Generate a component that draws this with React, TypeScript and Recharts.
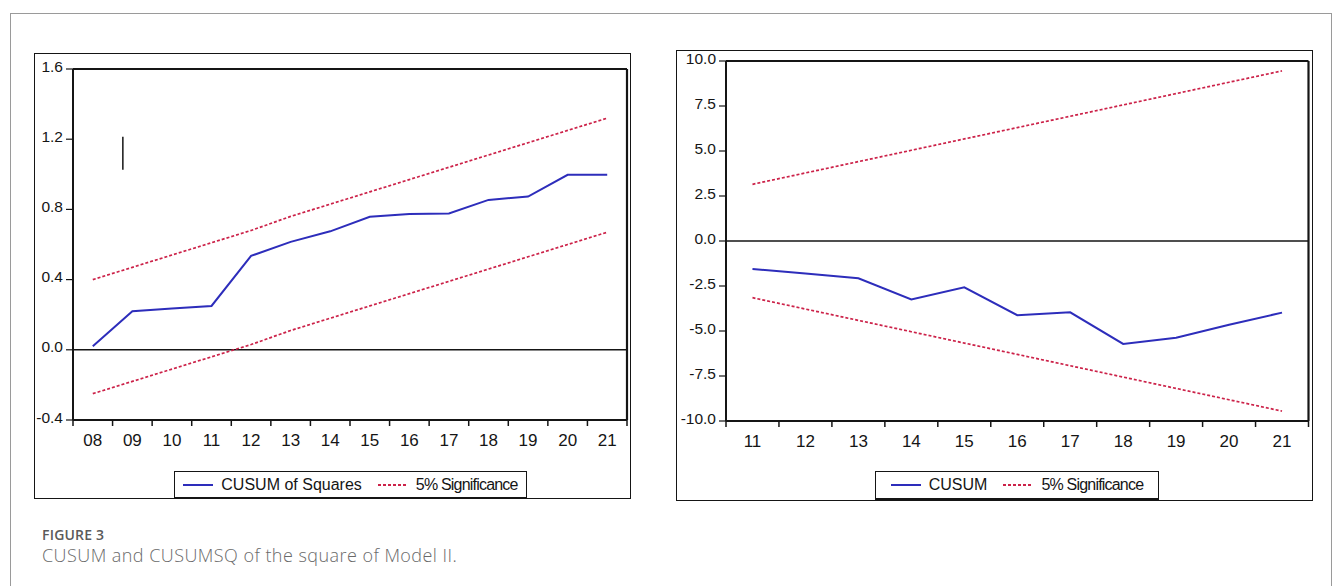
import React from "react";
import { Line, LineChart, ReferenceLine, XAxis, YAxis } from "recharts";

const BLUE = "#2d2dbb";
const RED = "#cc2249";
const INK = "#151515";
const FONT = "Liberation Sans, Arial, sans-serif";

// left panel: CUSUM of Squares
const YEARS_SQ = ["08", "09", "10", "11", "12", "13", "14", "15", "16", "17", "18", "19", "20", "21"];
const CUSUMSQ = [0.02, 0.22, 0.235, 0.25, 0.535, 0.615, 0.675, 0.758, 0.774, 0.777, 0.854, 0.873, 0.997, 0.997];
const SQ_UPPER = [0.40, 0.47, 0.54, 0.61, 0.68, 0.76, 0.83, 0.90, 0.97, 1.04, 1.11, 1.18, 1.25, 1.32];
const SQ_LOWER = [-0.25, -0.18, -0.11, -0.04, 0.03, 0.11, 0.18, 0.25, 0.32, 0.39, 0.46, 0.53, 0.60, 0.67];
const SQ_TICKS = [-0.4, 0, 0.4, 0.8, 1.2, 1.6];

// right panel: CUSUM
const YEARS_CU = ["11", "12", "13", "14", "15", "16", "17", "18", "19", "20", "21"];
const CUSUM = [-1.56, -1.8, -2.07, -3.25, -2.57, -4.12, -3.96, -5.72, -5.37, -4.65, -3.98];
const CU_UPPER = [3.15, 3.78, 4.41, 5.04, 5.67, 6.3, 6.93, 7.56, 8.19, 8.82, 9.45];
const CU_LOWER = [-3.15, -3.78, -4.41, -5.04, -5.67, -6.3, -6.93, -7.56, -8.19, -8.82, -9.45];
const CU_TICKS = [-10, -7.5, -5, -2.5, 0, 2.5, 5, 7.5, 10];

const sqData = YEARS_SQ.map((year, i) => ({ year, value: CUSUMSQ[i], upper: SQ_UPPER[i], lower: SQ_LOWER[i] }));
const cuData = YEARS_CU.map((year, i) => ({ year, value: CUSUM[i], upper: CU_UPPER[i], lower: CU_LOWER[i] }));

// x ticks sit on the category boundaries, labels in the middle
const boundaryTick = (bw: number, n: number) => (p: any) => {
  const { x, y, payload, index } = p;
  return (
    <g>
      <line x1={x - bw / 2} x2={x - bw / 2} y1={y} y2={y + 6} stroke={INK} strokeWidth={1.5} />
      {index === n - 1 && <line x1={x + bw / 2} x2={x + bw / 2} y1={y} y2={y + 6} stroke={INK} strokeWidth={1.5} />}
      <text x={x} y={y + 26} textAnchor="middle" fill={INK} style={{ fontFamily: FONT, fontSize: 17 }}>
        {payload.value}
      </text>
    </g>
  );
};

const yTick = (p: any) => {
  const { x, y, payload } = p;
  return (
    <text x={x} y={y + 2.5} textAnchor="end" fill={INK} style={{ fontFamily: FONT, fontSize: 15.5 }}>
      {payload.value.toFixed(1)}
    </text>
  );
};

type Box = { l: number; t: number; r: number; b: number };

function Panel({
  frame,
  plot,
  data,
  ticks,
  domain,
  seriesName,
  legend,
  children,
}: {
  frame: Box;
  plot: Box;
  data: any[];
  ticks: number[];
  domain: [number, number];
  seriesName: string;
  legend: Box;
  children?: React.ReactNode;
}) {
  const w = frame.r - frame.l;
  const h = frame.b - frame.t;
  const n = data.length;
  const bw = (plot.r - plot.l) / n;
  const xAxisH = 30;
  return (
    <>
      <div style={{ position: "absolute", left: frame.l, top: frame.t }}>
        <LineChart
          width={w}
          height={h}
          data={data}
          margin={{ top: plot.t - frame.t - 1, right: frame.r - plot.r - 1, bottom: frame.b - plot.b - xAxisH, left: 0 }}
        >
          <XAxis
            dataKey="year"
            scale="band"
            interval={0}
            height={xAxisH}
            axisLine={{ stroke: INK, strokeWidth: 2 }}
            tickLine={false}
            tickSize={0}
            tickMargin={0}
            tick={boundaryTick(bw, n)}
          />
          <XAxis
            xAxisId="top"
            dataKey="year"
            scale="band"
            orientation="top"
            height={1}
            tick={false}
            tickLine={false}
            axisLine={{ stroke: INK, strokeWidth: 2.2 }}
          />
          <YAxis
            domain={domain}
            ticks={ticks}
            interval={0}
            width={plot.l - frame.l}
            tickSize={7}
            tickMargin={3}
            axisLine={{ stroke: INK, strokeWidth: 2 }}
            tickLine={{ stroke: INK, strokeWidth: 1.2 }}
            tick={yTick}
          />
          <YAxis
            yAxisId="right"
            orientation="right"
            domain={domain}
            width={1}
            tick={false}
            tickLine={false}
            axisLine={{ stroke: INK, strokeWidth: 2.2 }}
          />
          <ReferenceLine y={0} stroke={INK} strokeWidth={1.6} />
          {children}
          <Line type="linear" dataKey="upper" stroke={RED} strokeWidth={1.7} strokeDasharray="3 2" dot={false} isAnimationActive={false} />
          <Line type="linear" dataKey="lower" stroke={RED} strokeWidth={1.7} strokeDasharray="3 2" dot={false} isAnimationActive={false} />
          <Line type="linear" dataKey="value" name={seriesName} stroke={BLUE} strokeWidth={2} dot={false} isAnimationActive={false} />
        </LineChart>
      </div>
      {/* EViews graph frame */}
      <div
        style={{
          position: "absolute",
          left: frame.l,
          top: frame.t,
          width: w,
          height: h,
          boxSizing: "border-box",
          border: `1.6px solid ${INK}`,
          pointerEvents: "none",
        }}
      />
      {/* legend box */}
      <div
        style={{
          position: "absolute",
          left: legend.l,
          top: legend.t,
          width: legend.r - legend.l,
          height: legend.b - legend.t,
          boxSizing: "border-box",
          border: `1.6px solid ${INK}`,
          borderBottomWidth: 2.5,
          display: "flex",
          alignItems: "center",
          justifyContent: "center",
          gap: 8,
          fontFamily: FONT,
          fontSize: 16,
          color: INK,
          background: "#fff",
        }}
      >
        <svg width={30} height={4}>
          <line x1={0} x2={30} y1={2} y2={2} stroke={BLUE} strokeWidth={2} />
        </svg>
        <span style={{ marginRight: 8 }}>{seriesName}</span>
        <svg width={30} height={4}>
          <line x1={0} x2={30} y1={2} y2={2} stroke={RED} strokeWidth={1.8} strokeDasharray="3 2" />
        </svg>
        <span style={{ letterSpacing: -0.8 }}>5% Significance</span>
      </div>
    </>
  );
}

export default function App() {
  return (
    <div style={{ position: "absolute", left: 0, top: 0, width: 1338, height: 586, background: "#fff", overflow: "hidden" }}>
      <div
        style={{
          position: "absolute",
          left: 10,
          top: 13,
          width: 1322,
          height: 620,
          boxSizing: "border-box",
          border: "1.5px solid #9a9a9a",
        }}
      />
      <Panel
        frame={{ l: 34, t: 53, r: 631, b: 499 }}
        plot={{ l: 73, t: 69, r: 627, b: 420 }}
        data={sqData}
        ticks={SQ_TICKS}
        domain={[-0.4, 1.6]}
        seriesName="CUSUM of Squares"
        legend={{ l: 174, r: 527, t: 471, b: 499 }}
      >
        <ReferenceLine
          segment={[
            { x: "09", y: 1.214 },
            { x: "09", y: 1.026 },
          ]}
          stroke={INK}
          strokeWidth={1.5}
          shape={(p: any) => <line x1={p.x1 - 9.5} x2={p.x2 - 9.5} y1={p.y1} y2={p.y2} stroke={INK} strokeWidth={1.5} />}
        />
      </Panel>
      <Panel
        frame={{ l: 676, t: 50, r: 1313, b: 501 }}
        plot={{ l: 726, t: 61, r: 1308.5, b: 421 }}
        data={cuData}
        ticks={CU_TICKS}
        domain={[-10, 10]}
        seriesName="CUSUM"
        legend={{ l: 875, r: 1159, t: 471, b: 500 }}
      />
      <div
        style={{
          position: "absolute",
          left: 42,
          top: 525,
          fontFamily: '"Open Sans", sans-serif',
          fontSize: 14,
          fontWeight: 600,
          color: "#5a5a5a",
          letterSpacing: 0.2,
        }}
      >
        FIGURE 3
      </div>
      <div
        style={{
          position: "absolute",
          left: 42,
          top: 543,
          fontFamily: '"Open Sans", sans-serif',
          fontSize: 18,
          fontWeight: 300,
          letterSpacing: 0.45,
          color: "#6a6a6a",
        }}
      >
        CUSUM and CUSUMSQ of the square of Model II.
      </div>
    </div>
  );
}
